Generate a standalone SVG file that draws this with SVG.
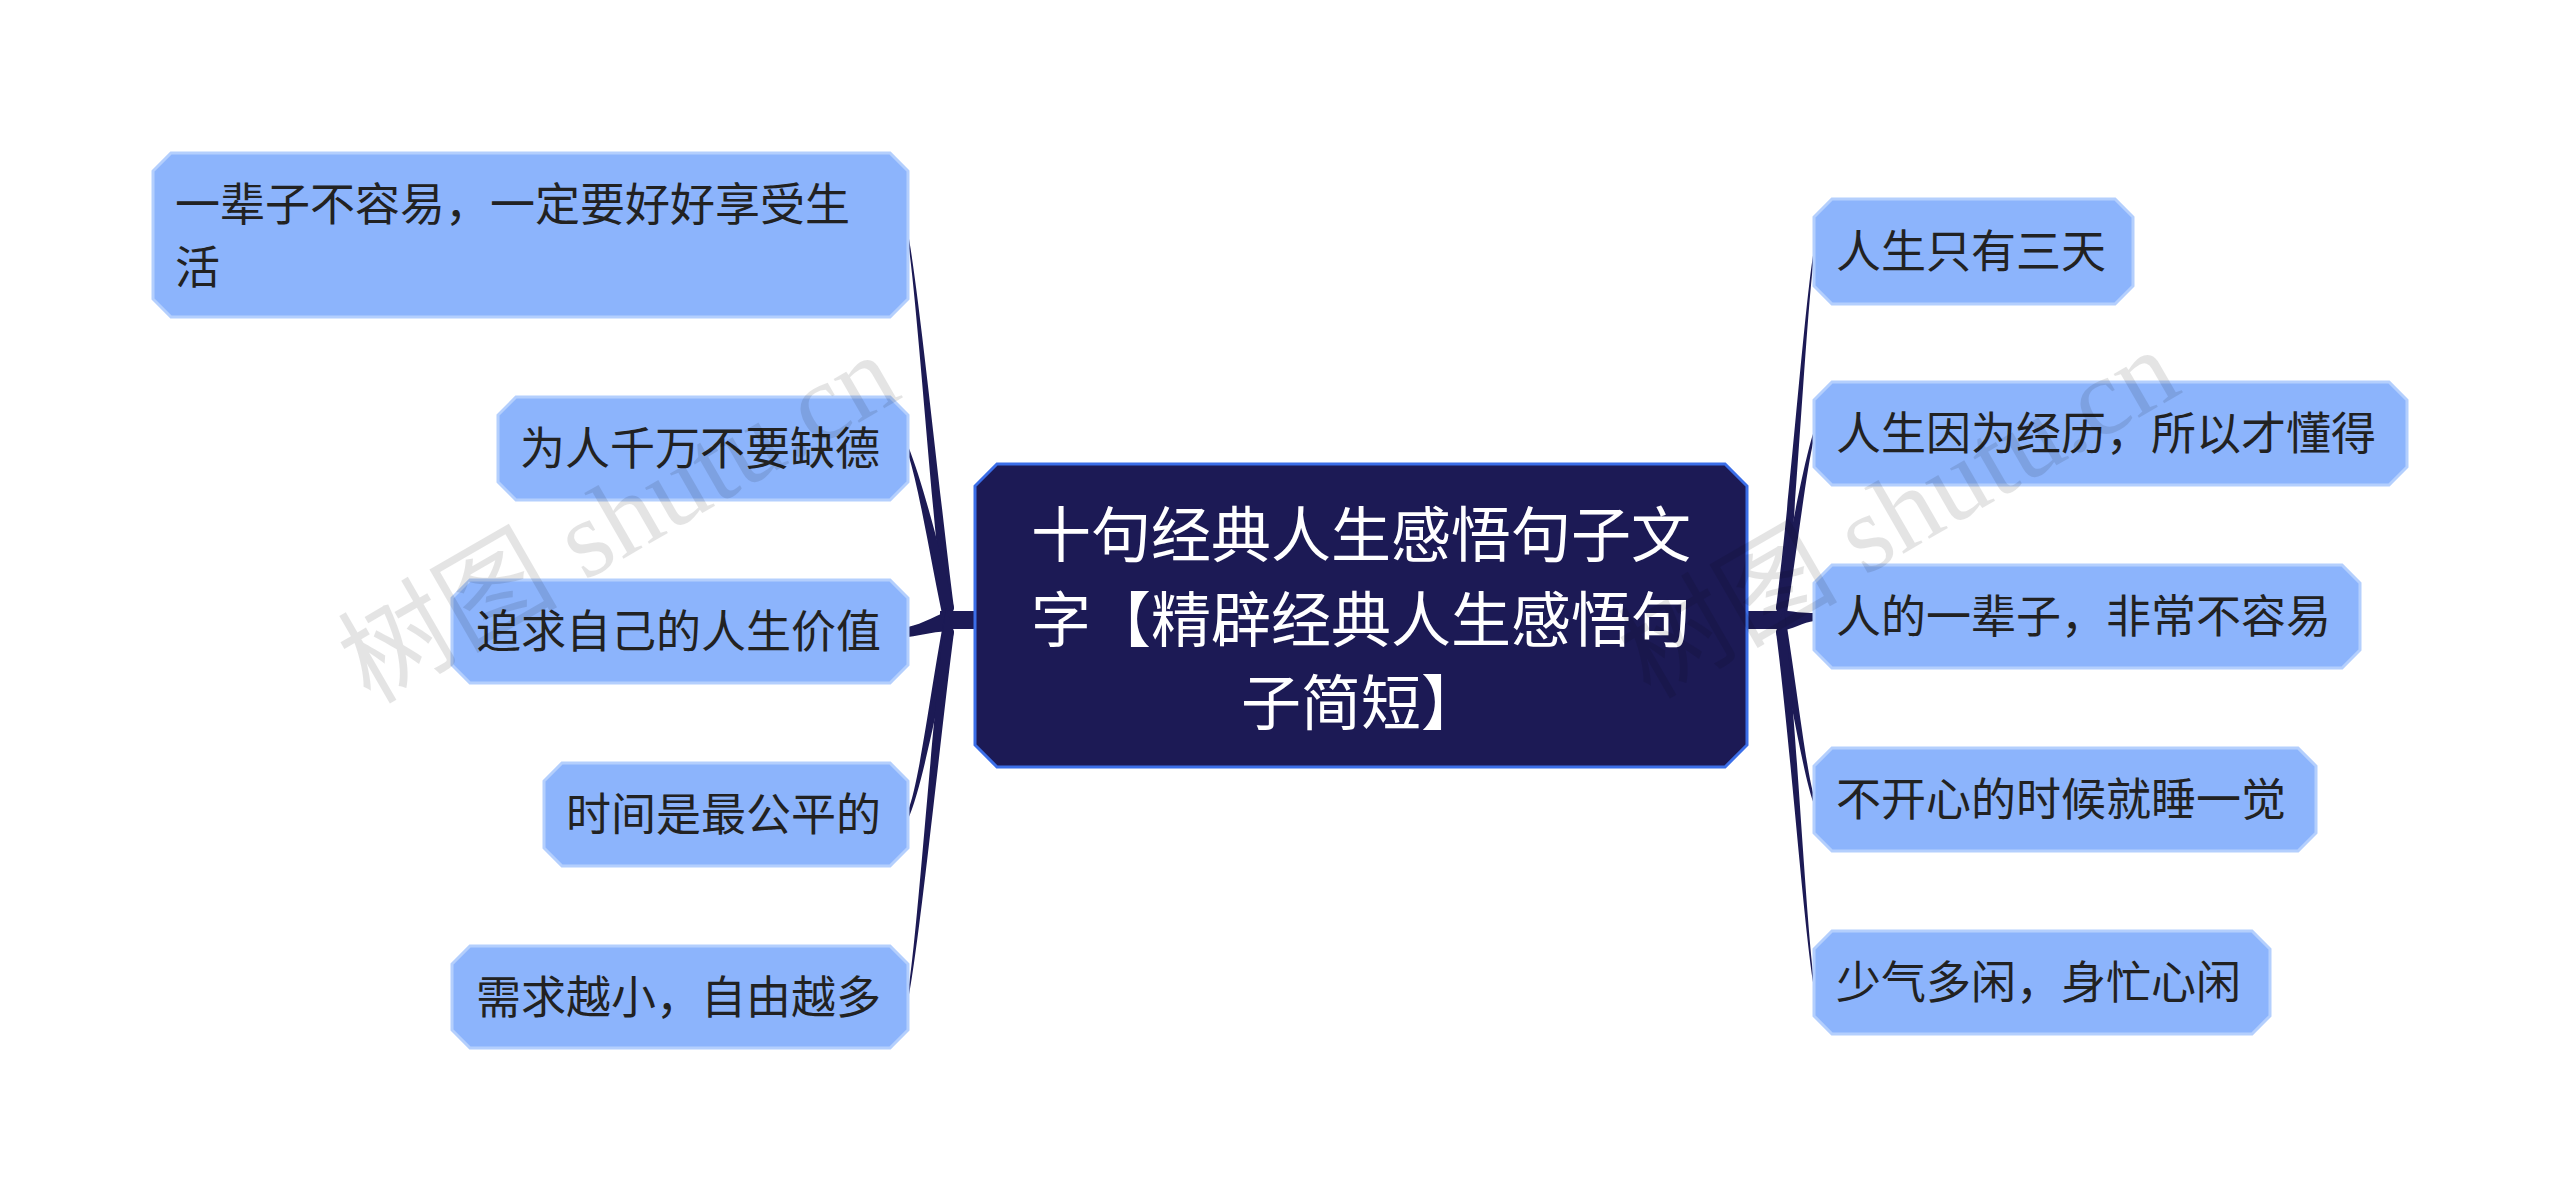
<svg xmlns="http://www.w3.org/2000/svg" width="2560" height="1204" viewBox="0 0 2560 1204">
<style>
.n{fill:#8cb4fc;stroke:#b4cffd;stroke-width:3}
.t{font-family:"Noto Sans CJK SC",sans-serif;font-size:45px;fill:#222}
.c{font-family:"Noto Sans CJK SC",sans-serif;font-size:60px;fill:#fff;text-anchor:middle}
.l{fill:#1c1a55}
.w{font-family:"Liberation Serif","Noto Sans CJK SC",serif;font-size:110px;fill:#000;opacity:0.1}
</style>
<rect width="2560" height="1204" fill="#fff"/>
<g id="connectors" class="l">
<rect x="940" y="611" width="40" height="18"/>
<path d="M954 608 C940 500,920 300,908 233 L908 241 C918 310,932 520,946 632 Z"/>
<path d="M954 608 C940 550,922 480,908 446 L908 454 C920 490,932 570,946 632 Z"/>
<path d="M952 609 C940 614,922 624,908 627 L908 637 C922 635,938 631,952 631 Z"/>
<path d="M946 608 C932 680,920 780,908 811 L908 819 C922 790,940 690,954 632 Z"/>
<path d="M946 608 C932 720,918 930,908 993 L908 1001 C920 940,940 740,954 632 Z"/>
<rect x="1740" y="611" width="40" height="18"/>
<path d="M1776 608 C1790 500,1804 310,1814 249 L1814 257 C1806 320,1796 520,1784 632 Z"/>
<path d="M1776 608 C1790 540,1804 460,1814 431 L1814 439 C1806 470,1796 560,1784 632 Z"/>
<path d="M1778 609 C1792 612,1804 613,1814 613 L1814 621 C1804 622,1792 630,1778 631 Z"/>
<path d="M1784 608 C1796 680,1806 770,1814 796 L1814 804 C1804 780,1790 690,1776 632 Z"/>
<path d="M1784 608 C1796 720,1806 920,1814 979 L1814 987 C1804 930,1790 740,1776 632 Z"/>
</g>
<g id="center">
<path d="M997 464 H1725 L1747 486 V745 L1725 767 H997 L975 745 V486 Z" fill="#1c1a55" stroke="#3b6ee8" stroke-width="3"/>
<text class="c" x="1361" y="557">十句经典人生感悟句子文</text>
<text class="c" x="1361" y="642">字【精辟经典人生感悟句</text>
<text class="c" x="1361" y="725">子简短】</text>
</g>
<g id="l1"><path class="n" d="M171 153 H890 L908 171 V299 L890 317 H171 L153 299 V171 Z"/><text class="t" x="175" y="221">一辈子不容易，一定要好好享受生</text><text class="t" x="175" y="284">活</text></g>
<g id="l2"><path class="n" d="M516 397 H890 L908 415 V482 L890 500 H516 L498 482 V415 Z"/><text class="t" x="520" y="465">为人千万不要缺德</text></g>
<g id="l3"><path class="n" d="M470 580 H890 L908 598 V665 L890 683 H470 L452 665 V598 Z"/><text class="t" x="476" y="648">追求自己的人生价值</text></g>
<g id="l4"><path class="n" d="M562 763 H890 L908 781 V848 L890 866 H562 L544 848 V781 Z"/><text class="t" x="566" y="831">时间是最公平的</text></g>
<g id="l5"><path class="n" d="M470 946 H890 L908 964 V1030 L890 1048 H470 L452 1030 V964 Z"/><text class="t" x="476" y="1014">需求越小，自由越多</text></g>
<g id="r1"><path class="n" d="M1832 199 H2115 L2133 217 V286 L2115 304 H1832 L1814 286 V217 Z"/><text class="t" x="1836" y="268">人生只有三天</text></g>
<g id="r2"><path class="n" d="M1832 382 H2389 L2407 400 V467 L2389 485 H1832 L1814 467 V400 Z"/><text class="t" x="1836" y="450">人生因为经历，所以才懂得</text></g>
<g id="r3"><path class="n" d="M1832 565 H2342 L2360 583 V650 L2342 668 H1832 L1814 650 V583 Z"/><text class="t" x="1836" y="633">人的一辈子，非常不容易</text></g>
<g id="r4"><path class="n" d="M1832 748 H2298 L2316 766 V833 L2298 851 H1832 L1814 833 V766 Z"/><text class="t" x="1836" y="816">不开心的时候就睡一觉</text></g>
<g id="r5"><path class="n" d="M1832 931 H2252 L2270 949 V1016 L2252 1034 H1832 L1814 1016 V949 Z"/><text class="t" x="1836" y="999">少气多闲，身忙心闲</text></g>
<text class="w" transform="translate(370,705) rotate(-30)">树图 shutu.cn</text>
<text class="w" transform="translate(1650,700) rotate(-30)">树图 shutu.cn</text>
</svg>
